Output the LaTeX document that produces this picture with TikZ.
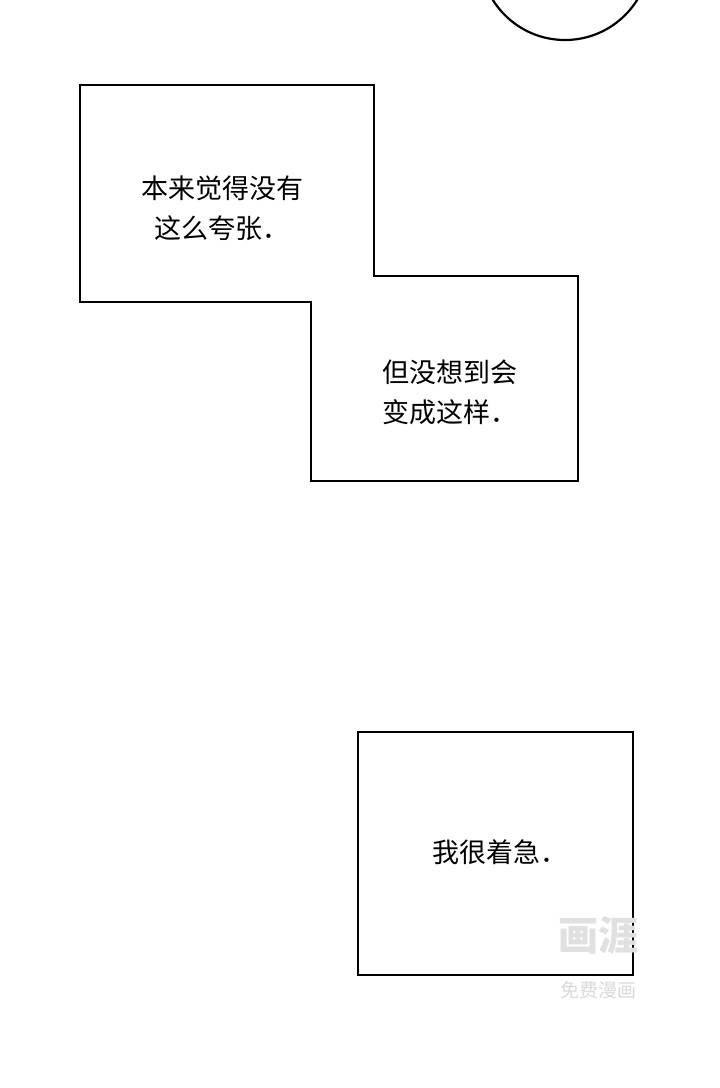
\documentclass[tikz,border=0pt]{standalone}
\usepackage{fontspec}
\newfontfamily\cjk{Noto Sans CJK SC}
\begin{document}
\begin{tikzpicture}[x=1pt,y=-1pt,
  panel/.style={draw=black,line width=2.2pt,fill=white,line join=miter},
  txt/.style={font=\cjk\fontsize{27}{40}\selectfont,align=center,inner sep=0pt}]
\useasboundingbox[fill=white] (0,0) rectangle (720,1088);
\begin{scope}
\clip (0,0) rectangle (720,1088);
\draw[line width=2.2pt] (565,-45) ellipse[x radius=85,y radius=85];
\end{scope}
\draw[panel] (80,85) -- (374,85) -- (374,276) -- (578,276) -- (578,481) -- (311,481) -- (311,302) -- (80,302) -- cycle;
\node[txt] (t1) at (222,208) {本来觉得没有\\这么夸张．};
\node[txt] (t2) at (450,392) {但没想到会\\变成这样．};
\draw[panel] (358,732) rectangle (633,975);
\node[txt] (t3) at (500,852) {我很着急．};
\node[font=\cjk\bfseries\fontsize{40}{40}\selectfont,text=black!12] (w1) at (598,935) {画涯};
\node[font=\cjk\fontsize{19}{20}\selectfont,text=black!15] (w2) at (598,990) {免费漫画};
\end{tikzpicture}
\end{document}
